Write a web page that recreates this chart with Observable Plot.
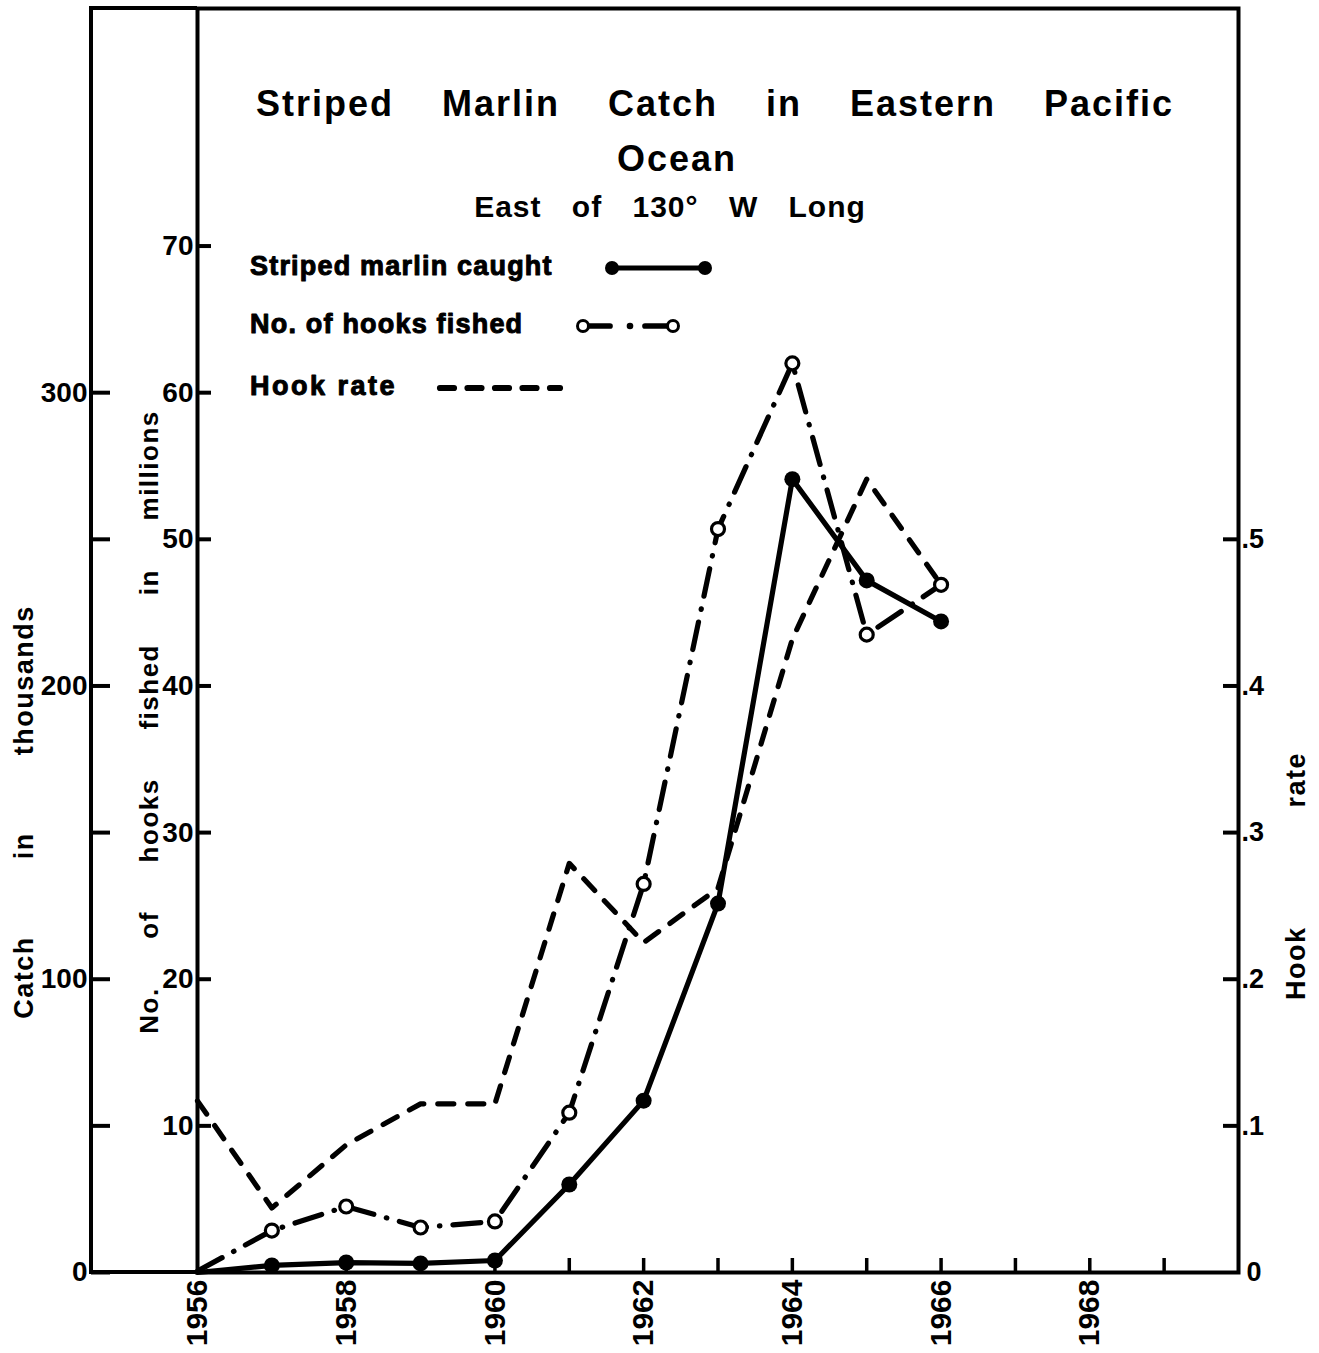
<!DOCTYPE html>
<html>
<head>
<meta charset="utf-8">
<script src="https://cdn.jsdelivr.net/npm/d3@7"></script>
<script src="https://cdn.jsdelivr.net/npm/@observablehq/plot@0.6"></script>
<style>
  html, body { margin: 0; padding: 0; background: #fff; }
  #chart svg { display: block; }
</style>
</head>
<body>
<div id="chart"></div>
<script>
// ---- Data ----
const years = [1956, 1957, 1958, 1959, 1960, 1961, 1962, 1963, 1964, 1965, 1966];
const catchThousands = [0, 2.4, 3.4, 3.1, 4.1, 30, 58.6, 125.8, 270.5, 236, 222];
const hooksMillions = [0.1, 2.86, 4.5, 3.07, 3.48, 10.9, 26.5, 50.7, 62.0, 43.5, 46.9];
const hookRate = [0.117, 0.044, 0.087, 0.115, 0.115, 0.279, 0.225, 0.262, 0.432, 0.541, 0.469];

const catchTicks = [0, 50, 100, 150, 200, 250, 300];
const catchLabels = [0, 100, 200, 300];
const hooksTicks = [10, 20, 30, 40, 50, 60, 70];
const rateTicks = [0.1, 0.2, 0.3, 0.4, 0.5];
const rateLabels = [".1", ".2", ".3", ".4", ".5"];
const yearTicks = [1957, 1958, 1959, 1960, 1961, 1962, 1963, 1964, 1965, 1966, 1967, 1968, 1969];
const yearLabels = [1956, 1958, 1960, 1962, 1964, 1966, 1968];

const titleLine1 = "Striped Marlin Catch in Eastern Pacific";
const titleLine2 = "Ocean";
const subtitle = "East of 130° W Long";
const legendLabels = ["Striped marlin caught", "No. of hooks fished", "Hook rate"];
const catchAxisLabel = "Catch in thousands";
const hooksAxisLabel = "No. of hooks fished in millions";
const rateAxisLabel = "Hook rate";

// Secondary scales expressed on the main (hooks, millions) y scale
const CATCH_PER_HOOK_UNIT = 5;   // 300 thousand catch == 60 million hooks
const RATE_PER_HOOK_UNIT = 0.01; // hook rate .1 == 10 million hooks

const data = years.map((year, i) => ({
  year,
  catchK: catchThousands[i],
  hooks: hooksMillions[i],
  rate: hookRate[i]
}));

const FONT = "'Liberation Sans', Arial, Helvetica, sans-serif";
const W = 1319, H = 1353;
const mL = 197, mR = 81, mT = 8, mB = 81;
const SW = 5.2;

const plot = Plot.plot({
  width: W,
  height: H,
  marginLeft: mL,
  marginRight: mR,
  marginTop: mT,
  marginBottom: mB,
  style: { fontFamily: FONT, fontWeight: "bold", background: "#fff", color: "#000", overflow: "visible" },
  x: { domain: [1956, 1970], axis: null },
  y: { domain: [0, 86.2], axis: null },
  marks: [
    Plot.frame({ stroke: "#000", strokeWidth: 4 }),

    // catch axis (outer left)
    Plot.axisY(catchTicks.map(v => v / CATCH_PER_HOOK_UNIT), {
      anchor: "left", dx: -87, tickSize: 19, tickPadding: 4, strokeWidth: 4,
      tickFormat: v => { const c = Math.round(v * CATCH_PER_HOOK_UNIT); return catchLabels.includes(c) ? String(c) : ""; },
      fontSize: 28, fontWeight: "bold", label: null
    }),
    // hooks axis (inner left)
    Plot.axisY(hooksTicks, {
      anchor: "left", dx: 14, tickSize: 14, tickPadding: 4, strokeWidth: 4,
      tickFormat: d => String(d), fontSize: 28, fontWeight: "bold", label: null
    }),
    // hook rate axis (right)
    Plot.axisY(rateTicks.map(r => r / RATE_PER_HOOK_UNIT), {
      anchor: "right", dx: -16, tickSize: 16, tickPadding: 3, strokeWidth: 4,
      tickFormat: (v, i) => rateLabels[i], fontSize: 27, fontWeight: "bold", label: null
    }),
    Plot.axisY([0], {
      anchor: "right", tickSize: 0, tickPadding: 8,
      tickFormat: () => "0", fontSize: 27, fontWeight: "bold", label: null
    }),
    // x ticks (every year) and labels (even years)
    Plot.axisX(yearTicks, {
      anchor: "bottom", dy: -14, tickSize: 14, strokeWidth: 3.5,
      tickFormat: () => "", label: null
    }),
    Plot.axisX(yearLabels, {
      anchor: "bottom", tickSize: 0, tickPadding: 7, tickRotate: -90,
      tickFormat: d => String(d), fontSize: 30, fontWeight: "bold", label: null
    }),

    // hook rate (dashed)
    Plot.line(data, {
      x: "year", y: d => d.rate / RATE_PER_HOOK_UNIT,
      stroke: "#000", strokeWidth: SW, strokeDasharray: "16,14",
      strokeLinecap: "round", strokeLinejoin: "round"
    }),
    // hooks (dash-dot)
    Plot.line(data, {
      x: "year", y: "hooks",
      stroke: "#000", strokeWidth: SW, strokeDasharray: "28,13,0.5,13",
      strokeLinecap: "round", strokeLinejoin: "round"
    }),
    // catch (solid)
    Plot.line(data, {
      x: "year", y: d => d.catchK / CATCH_PER_HOOK_UNIT,
      stroke: "#000", strokeWidth: SW, strokeLinejoin: "round"
    }),
    Plot.dot(data.filter(d => d.year > 1956), {
      x: "year", y: d => d.catchK / CATCH_PER_HOOK_UNIT,
      r: 8, fill: "#000", stroke: "none"
    }),
    Plot.dot(data.filter(d => d.year > 1956), {
      x: "year", y: "hooks",
      r: 6.5, fill: "#fff", stroke: "#000", strokeWidth: 3.2
    })
  ]
});

document.getElementById("chart").appendChild(plot);

// ---- Annotations: frame extension, titles, legend, axis titles ----
const svg = d3.select(plot);
const frameLeft = mL, frameTop = mT, frameBottom = H - mB;
const outerLeft = 91;

const g = svg.append("g").attr("stroke", "#000").attr("stroke-width", 4).attr("fill", "none");
g.append("path").attr("d", `M${frameLeft},${frameTop}H${outerLeft}V${frameBottom}H${frameLeft}`).attr("stroke-linejoin", "miter");

function txt(s, x, y, o = {}) {
  const t = svg.append("text")
    .attr("x", x).attr("y", y)
    .attr("font-family", FONT)
    .attr("font-weight", "bold")
    .attr("font-size", o.size || 28)
    .attr("text-anchor", o.anchor || "start")
    .attr("fill", "#000")
    .style("letter-spacing", (o.ls || 0) + "px")
    .style("word-spacing", (o.ws || 0) + "px")
    .text(s);
  if (o.rotate) t.attr("transform", `rotate(${o.rotate},${x},${y})`);
  if (o.heavy) t.attr("stroke", "#000").attr("stroke-width", o.heavy).attr("stroke-linejoin", "round");
  return t;
}

// Title block
txt(titleLine1, 715, 116, { size: 36, anchor: "middle", ls: 2, ws: 36 });
txt(titleLine2, 677, 171, { size: 36, anchor: "middle", ls: 2 });
txt(subtitle, 670, 217, { size: 30, anchor: "middle", ls: 1, ws: 21 });

// Legend
txt(legendLabels[0], 250, 275, { size: 27, ls: 1.2, heavy: 1 });
txt(legendLabels[1], 250, 333, { size: 27, ls: 1.2, heavy: 1 });
txt(legendLabels[2], 250, 395, { size: 27, ls: 2.5, heavy: 1 });

const lg = svg.append("g").attr("stroke", "#000").attr("fill", "none");
// catch symbol
lg.append("line").attr("x1", 612).attr("x2", 705).attr("y1", 268).attr("y2", 268).attr("stroke-width", SW);
lg.append("circle").attr("cx", 612).attr("cy", 268).attr("r", 7).attr("fill", "#000").attr("stroke", "none");
lg.append("circle").attr("cx", 705).attr("cy", 268).attr("r", 7).attr("fill", "#000").attr("stroke", "none");
// hooks symbol
lg.append("line").attr("x1", 588).attr("x2", 610).attr("y1", 326).attr("y2", 326).attr("stroke-width", SW + 0.5).attr("stroke-linecap", "round");
lg.append("circle").attr("cx", 630).attr("cy", 326).attr("r", 3.3).attr("fill", "#000").attr("stroke", "none");
lg.append("line").attr("x1", 645).attr("x2", 668).attr("y1", 326).attr("y2", 326).attr("stroke-width", SW + 0.5).attr("stroke-linecap", "round");
lg.append("circle").attr("cx", 583).attr("cy", 326).attr("r", 5.5).attr("fill", "#fff").attr("stroke-width", 3);
lg.append("circle").attr("cx", 673).attr("cy", 326).attr("r", 5.5).attr("fill", "#fff").attr("stroke-width", 3);
// hook rate symbol
lg.append("line").attr("x1", 440).attr("x2", 560).attr("y1", 388).attr("y2", 388)
  .attr("stroke-width", SW + 1).attr("stroke-dasharray", "14,13.5").attr("stroke-linecap", "round");

// Axis titles (rotated)
txt(catchAxisLabel, 33, 812, { size: 27, anchor: "middle", rotate: -90, ls: 1.5, ws: 68 });
txt(hooksAxisLabel, 158, 722, { size: 26, anchor: "middle", rotate: -90, ls: 1.5, ws: 40 });
txt(rateAxisLabel, 1305, 876, { size: 27, anchor: "middle", rotate: -90, ls: 1.5, ws: 110 });
</script>
</body>
</html>
